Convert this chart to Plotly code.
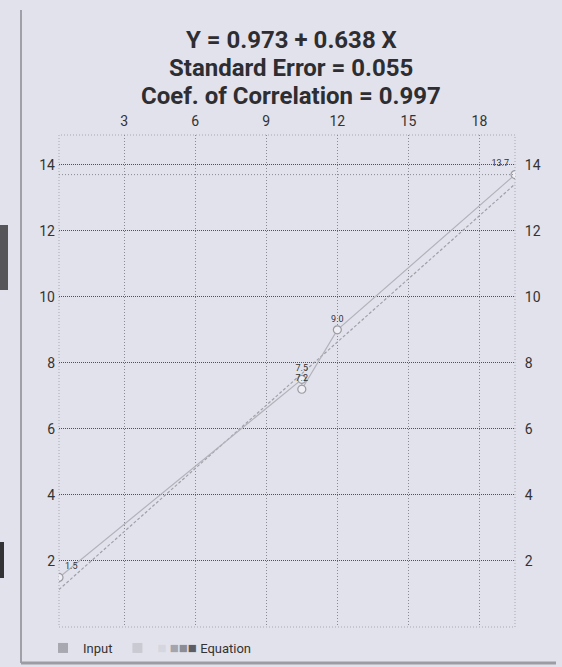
import plotly.graph_objects as go

# ---- data ----
input_x = [0.25, 10.5, 10.5, 12.0, 19.5]
input_y = [1.5, 7.5, 7.2, 9.0, 13.7]
input_labels = ["1.5", "7.5", "7.2", "9.0", "13.7"]
intercept = 0.973
slope = 0.638
std_error = 0.055
correlation = 0.997
x_ticks = [3, 6, 9, 12, 15, 18]
y_ticks = [2, 4, 6, 8, 10, 12, 14]
y_range = [0.0, 14.9]

eq_x = [min(input_x), max(input_x)]
eq_y = [intercept + slope * v for v in eq_x]

W, H = 562, 667
L, R, T, B = 59, 47, 135, 40
PW, PH = W - L - R, H - T - B

def px(x):
    return (x - L) / PW

def py(y):
    return (H - B - y) / PH

BG = "#e2e2ec"

fig = go.Figure()

fig.add_trace(go.Scatter(
    x=eq_x, y=eq_y, mode="lines", name="Equation", showlegend=False,
    line=dict(color="#a0a0a8", width=1.2, dash="3px,2px"),
))
fig.add_trace(go.Scatter(
    x=input_x, y=input_y, mode="lines+markers+text", name="Input", showlegend=False,
    line=dict(color="#b2b2ba", width=1.2),
    marker=dict(symbol="circle", size=8, color="#eeeef4",
                line=dict(color="#9a9aa2", width=1.2)),
    text=input_labels,
    textposition=["top right", "top center", "top center", "top center", "top left"],
    textfont=dict(family="Roboto", size=9, color="#333"),
))
# invisible trace to show the right-hand axis
fig.add_trace(go.Scatter(
    x=eq_x, y=eq_y, yaxis="y2", mode="lines", opacity=0,
    showlegend=False, hoverinfo="skip",
))
# legend entries (square swatches as in the original)
fig.add_trace(go.Scatter(
    x=[None], y=[None], mode="markers", name="Input",
    marker=dict(symbol="square", size=10, color="#a8a8b0"),
))
sq = "■"
eq_legend = (f"<span style='color:#d6d6de;font-size:15px'>{sq}</span> "
             f"<span style='color:#a4a4ac;font-size:15px'>{sq}</span>"
             f"<span style='color:#8c8c94;font-size:15px'>{sq}</span>"
             f"<span style='color:#5c5c64;font-size:15px'>{sq}</span> Equation")
fig.add_trace(go.Scatter(
    x=[None], y=[None], mode="markers", name=eq_legend,
    marker=dict(symbol="square", size=10, color="#cacad2"),
))

fig.add_hline(y=max(input_y), line=dict(color="#8a8a92", width=1, dash="1px,2px"))

title_lines = [f"Y = {intercept:.3f} + {slope:.3f} X",
               f"Standard Error = {std_error:.3f}",
               f"Coef. of Correlation = {correlation:.3f}"]
title_y_px = [40, 68, 96]
for txt, ty in zip(title_lines, title_y_px):
    fig.add_annotation(text=f"<b>{txt}</b>", xref="paper", yref="paper",
                       x=px(291), y=py(ty), xanchor="center", yanchor="middle",
                       showarrow=False,
                       font=dict(family="Roboto", size=24, color="#2e2e32"))

axis_font = dict(family="Roboto", size=14, color="#333")

fig.update_layout(
    width=W, height=H,
    margin=dict(l=L, r=R, t=T, b=B, autoexpand=False),
    paper_bgcolor=BG, plot_bgcolor=BG,
    xaxis=dict(side="top", range=[min(input_x), max(input_x)],
               tickvals=x_ticks, ticks="outside", ticklen=2,
               tickcolor="rgba(0,0,0,0)", tickfont=axis_font,
               showgrid=True, gridcolor="#8a8a92", griddash="1px,2px", gridwidth=1,
               zeroline=False, showline=False),
    yaxis=dict(range=y_range, tickvals=y_ticks, ticks="", ticklabelstandoff=3,
               tickfont=axis_font,
               showgrid=True, gridcolor="#505058", griddash="1px,1px", gridwidth=1,
               zeroline=False, showline=False),
    yaxis2=dict(range=y_range, tickvals=y_ticks, ticks="outside", ticklen=6,
                tickcolor="rgba(0,0,0,0)", overlaying="y",
                side="right", tickfont=axis_font, showgrid=False,
                zeroline=False, showline=False),
    showlegend=True,
    legend=dict(orientation="h", xref="container", yref="container",
                x=43 / W, y=1 - 648 / H, xanchor="left",
                yanchor="middle", traceorder="normal",
                font=dict(family="Roboto", size=13, color="#333"),
                bgcolor="rgba(0,0,0,0)", itemwidth=30),
)

# plot frame
fig.add_shape(type="rect", xref="paper", yref="paper", x0=0, x1=1, y0=0, y1=1,
              line=dict(color="#a8a8b0", width=1, dash="1px,2px"), layer="below")
# card edges / photo backdrop
fig.add_shape(type="line", xref="paper", yref="paper",
              x0=px(21), x1=px(21), y0=py(10), y1=py(663),
              line=dict(color="#a0a0a8", width=2))
fig.add_shape(type="line", xref="paper", yref="paper",
              x0=px(21), x1=px(556), y0=py(663), y1=py(663),
              line=dict(color="#9c9ca4", width=3))
fig.add_shape(type="rect", xref="paper", yref="paper",
              x0=px(0), x1=px(8), y0=py(290), y1=py(225),
              fillcolor="#55555a", line=dict(width=0))
fig.add_shape(type="rect", xref="paper", yref="paper",
              x0=px(0), x1=px(4), y0=py(578), y1=py(542),
              fillcolor="#333336", line=dict(width=0))

fig.write_html("out.html",
               config={"displayModeBar": False},
               post_script="document.body.style.margin='0';"
                           "document.body.style.overflow='hidden';")
